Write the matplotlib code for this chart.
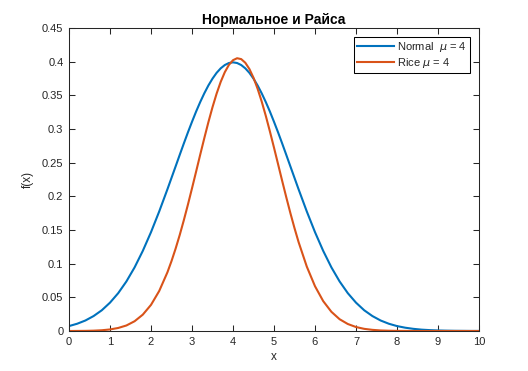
import matplotlib
matplotlib.use("Agg")
import matplotlib.pyplot as plt

x = [0.0, 0.2, 0.4, 0.6, 0.8, 1.0, 1.2, 1.4, 1.6, 1.8, 2.0, 2.2, 2.4,
     2.5, 2.6, 2.7, 2.8, 2.9, 3.0, 3.1, 3.2, 3.3, 3.4, 3.5, 3.6, 3.7, 3.8, 3.9,
     4.0, 4.1, 4.2, 4.3, 4.4, 4.5, 4.6, 4.7, 4.8, 4.9, 5.0, 5.1, 5.2, 5.3, 5.4, 5.5,
     5.6, 5.8, 6.0, 6.2, 6.4, 6.6, 6.8, 7.0, 7.2, 7.4, 7.6, 7.8,
     8.0, 8.2, 8.4, 8.6, 8.8, 9.0, 9.2, 9.4, 9.6, 9.8, 10.0]

normal_vals = [0.0073, 0.0108, 0.0156, 0.0222, 0.0308, 0.0421, 0.0562, 0.0736, 0.0945, 0.1190, 0.1468, 0.1775, 0.2104,
               0.2274, 0.2444, 0.2615, 0.2784, 0.2949, 0.3107, 0.3259, 0.3400, 0.3530, 0.3647, 0.3748, 0.3834, 0.3901, 0.3950, 0.3980,
               0.3990, 0.3980, 0.3950, 0.3901, 0.3834, 0.3748, 0.3647, 0.3530, 0.3400, 0.3259, 0.3107, 0.2949, 0.2784, 0.2615, 0.2444, 0.2274,
               0.2104, 0.1775, 0.1468, 0.1190, 0.0945, 0.0736, 0.0562, 0.0421, 0.0308, 0.0222, 0.0156, 0.0108,
               0.0073, 0.0049, 0.0032, 0.0020, 0.0013, 0.0008, 0.0005, 0.0003, 0.0002, 0.0001, 0.0001]

rice_vals = [0.0000, 0.0001, 0.0002, 0.0005, 0.0011, 0.0023, 0.0045, 0.0082, 0.0145, 0.0243, 0.0388, 0.0594, 0.0871,
             0.1038, 0.1223, 0.1425, 0.1644, 0.1876, 0.2119, 0.2367, 0.2618, 0.2864, 0.3102, 0.3324, 0.3525, 0.3700, 0.3844, 0.3952,
             0.4022, 0.4051, 0.4038, 0.3984, 0.3891, 0.3761, 0.3598, 0.3408, 0.3195, 0.2964, 0.2723, 0.2476, 0.2228, 0.1985, 0.1750, 0.1528,
             0.1320, 0.0956, 0.0665, 0.0444, 0.0285, 0.0175, 0.0104, 0.0059, 0.0032, 0.0017, 0.0008, 0.0004,
             0.0002, 0.0001, 0.0000, 0.0000, 0.0000, 0.0000, 0.0000, 0.0000, 0.0000, 0.0000, 0.0000]

x_ticks = [0, 1, 2, 3, 4, 5, 6, 7, 8, 9, 10]
y_ticks = [0, 0.05, 0.1, 0.15, 0.2, 0.25, 0.3, 0.35, 0.4, 0.45]
y_tick_labels = ["0", "0.05", "0.1", "0.15", "0.2", "0.25", "0.3", "0.35", "0.4", "0.45"]

title_text = "Нормальное и Райса"
labels = [r"Normal  $\mu$ = 4", r"Rice $\mu$ = 4"]

plt.rcParams['font.family'] = ['Liberation Sans', 'DejaVu Sans']
plt.rcParams['mathtext.fontset'] = 'dejavusans'

fig = plt.figure(figsize=(5.28, 3.71), dpi=100)
ax = fig.add_axes([69/528, 1 - 331/371, (479 - 69)/528, (331 - 28)/371])

ax.plot(x, normal_vals, color='#0072BD', lw=1.5, label=labels[0])
ax.plot(x, rice_vals, color='#D95319', lw=1.5, label=labels[1])

ax.set_xlim(0, 10)
ax.set_ylim(0, 0.45)
ax.set_xticks(x_ticks)
ax.set_xticklabels([str(t) for t in x_ticks])
ax.set_yticks(y_ticks)
ax.set_yticklabels(y_tick_labels)

gray = '#262626'
for s in ax.spines.values():
    s.set_linewidth(0.75)
    s.set_color(gray)
ax.tick_params(direction='in', top=True, right=True, length=4, width=0.75,
               colors=gray, labelsize=8, labelcolor=gray, pad=4)

ax.set_title(title_text, fontsize=10, fontweight='bold', color='black', pad=3)
ax.set_xlabel("x", fontsize=8.5, color=gray, labelpad=3)
ax.set_ylabel("f(x)", fontsize=8.5, color=gray, labelpad=6)

leg = ax.legend(loc='upper right', fontsize=8, frameon=True, fancybox=False,
                edgecolor='black', framealpha=1, borderpad=0.3, labelspacing=0.15,
                handlelength=3.3, handletextpad=0.3, borderaxespad=0.8)
leg.get_frame().set_linewidth(0.75)
for t in leg.get_texts():
    t.set_color(gray)

fig.savefig("out.png", dpi=100)
